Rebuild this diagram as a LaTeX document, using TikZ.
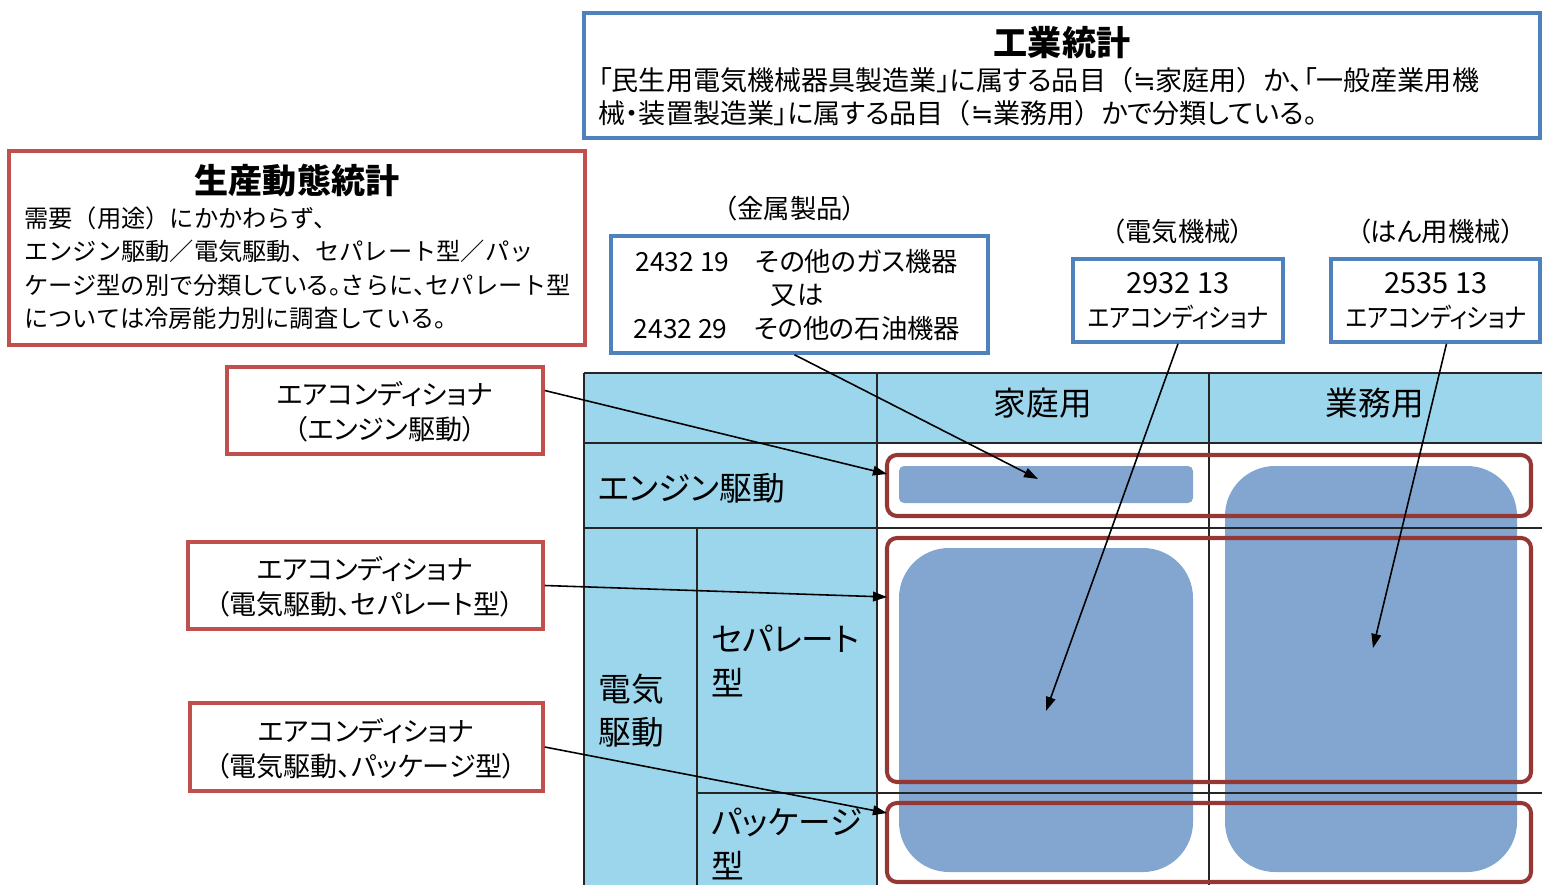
\documentclass[tikz,border=0pt]{standalone}
\usepackage{fontspec}
\setmainfont{Noto Sans CJK JP}
\newfontfamily\ffam{Noto Sans CJK JP}
\newfontfamily\pfam{Noto Sans CJK JP}[RawFeature=+palt]
\newfontfamily\cfam{Noto Sans CJK JP}[RawFeature=+palt,FakeStretch=0.86]
\newfontfamily\symfam{DejaVu Sans}
\usetikzlibrary{arrows.meta,fit,calc}
\definecolor{boxblue}{RGB}{79,129,189}
\definecolor{boxred}{RGB}{192,80,77}
\definecolor{dred}{RGB}{149,55,53}
\definecolor{tblue}{RGB}{156,214,236}
\definecolor{sblue}{RGB}{131,166,208}
\newcommand\myfs[2]{\fontsize{#1}{#2}\selectfont}
\newcommand\LP{{\ffam （}}
\newcommand\RP{{\ffam ）}}
\begin{document}
\begin{tikzpicture}[x=0.02cm,y=-0.02cm,
  bbox/.style={draw=boxblue,line width=2pt,inner sep=0pt},
  rbox/.style={draw=boxred,line width=2pt,inner sep=0pt},
  cellbox/.style={draw=dred,line width=2.3pt,rounded corners=0.2cm,inner sep=0pt},
  grid/.style={draw=black!85,line width=1.1pt},
  txt/.style={inner sep=0pt,text=black},
  ttl/.style={txt,font=\myfs{19.4}{23}\bfseries},
  body/.style={txt,font=\myfs{14.5}{18.8},align=left},
  small/.style={txt,font=\pfam\myfs{15}{18.8},align=center},
  lab/.style={txt,font=\pfam\myfs{15.4}{19.9},align=center},
  tbl/.style={txt,font=\pfam\myfs{18.6}{24.5},align=left},
  arr/.style={draw=black,line width=0.9pt,-{Triangle[length=8pt,width=5.5pt]}}]
\useasboundingbox (0,0) rectangle (1542,885);
\clip (0,0) rectangle (1542,885);

% ---- table background ----
\fill[tblue] (584,373) rectangle (1542,443);
\fill[tblue] (584,443) rectangle (877,890);
\fill[sblue,rounded corners=0.1cm] (899,466) rectangle (1193,503);
\fill[sblue,rounded corners=1cm] (899,548) rectangle (1193,872);
\fill[sblue,rounded corners=1cm] (1225,466) rectangle (1517,872);

% ---- grid ----
\draw[grid] (584,373) -- (1542,373);
\draw[grid] (584,443) -- (1542,443);
\draw[grid] (584,528) -- (1542,528);
\draw[grid] (697,793) -- (1542,793);
\draw[grid] (584,373) -- (584,890);
\draw[grid] (877,373) -- (877,890);
\draw[grid] (1209,373) -- (1209,890);
\draw[grid] (697,528) -- (697,890);

% ---- red cell frames ----
\node[cellbox,fit={(887,455) (1531,516)}] (cellE) {};
\node[cellbox,fit={(887,538) (1531,782)}] (cellS) {};
\node[cellbox,fit={(887,803) (1531,882)}] (cellP) {};

% ---- table texts ----
\node[tbl] (hh) at (1043,403) {家庭用};
\node[tbl] (bu) at (1375,403) {業務用};
\node[tbl,anchor=west] (en) at (598,488) {エンジン駆動};
\node[tbl,anchor=west] (el) at (598,711) {電気\\駆動};
\node[tbl,anchor=west] (se) at (711,661) {セパレート\\型};
\node[tbl,anchor=west] (pk) at (711,844) {パッケージ\\型};

% ---- top box ----
\node[bbox,fit={(584,13) (1540,138)}] (kogyo) {};
\node[ttl] (kogyoT) at (1062,43) {工業統計};
\node[body,anchor=west,font=\pfam\myfs{15.4}{18.8}] (kogyoB) at (598,97) {「民生用電気機械器具製造業」に属する品目\LP{\symfam ≒}家庭用\RP か、「一般産業用機\\械・装置製造業」に属する品目\LP{\symfam ≒}業務用\RP かで分類している。};

% ---- left box ----
\node[rbox,fit={(9,151) (585,345)}] (seisan) {};
\node[ttl] (seisanT) at (297,181) {生産動態統計};
\node[body,anchor=west,font=\myfs{13.8}{19}] (seisanB) at (24,268) {需要（用途）にかかわらず、\\エンジン駆動／電気駆動、セパレート型／パッ\\ケージ型の別で分類{\pfam している。}さらに{\pfam 、}セパレート型\\については冷房能力別に調査している。};

% ---- category boxes ----
\node[small] (kinH) at (790,208) {（金属製品）};
\node[bbox,fit={(611,236) (988,353)}] (kin) {};
\node[small] (kinT) at (797,295) {2432 19　その他のガス機器\\又は\\2432 29　その他の石油機器};

\node[small] (denH) at (1178,231) {（電気機械）};
\node[bbox,fit={(1073,259) (1283,342)}] (den) {};
\node[small] (denT) at (1178,301) {{\myfs{16.5}{18.8}2932 13}\\{\cfam エアコンディショナ}};

\node[small] (hanH) at (1436,231) {（はん用機械）};
\node[bbox,fit={(1331,259) (1540,342)}] (han) {};
\node[small] (hanT) at (1436,301) {{\myfs{16.5}{18.8}2535 13}\\{\cfam エアコンディショナ}};

% ---- label boxes ----
\node[rbox,fit={(227,367) (543,454)}] (lab1) {};
\node[lab] (lab1T) at (385,412) {エアコンディショナ\\（エンジン駆動）};
\node[rbox,fit={(188,542) (543,629)}] (lab2) {};
\node[lab] (lab2T) at (365,587) {エアコンディショナ\\（電気駆動、セパレート型）};
\node[rbox,fit={(190,703) (543,791)}] (lab3) {};
\node[lab] (lab3T) at (366,749) {エアコンディショナ\\（電気駆動、パッケージ型）};

% ---- arrow targets ----
\coordinate (tE) at (887,474);
\coordinate (tK) at (1038,479);
\coordinate (tS) at (887,597);
\coordinate (tP) at (887,813);
\coordinate (tD) at (1046,711);
\coordinate (tH) at (1373,648);

\draw[arr] ([yshift=0.4cm]lab1.east) -- (tE);
\draw[arr] ([xshift=-0.1cm]kin.south) -- (tK);
\draw[arr] (lab2.east) -- (tS);
\draw[arr] (lab3.east) -- (tP);
\draw[arr] (den.south) -- (tD);
\draw[arr] ([xshift=0.22cm]han.south) -- (tH);
\end{tikzpicture}
\end{document}
